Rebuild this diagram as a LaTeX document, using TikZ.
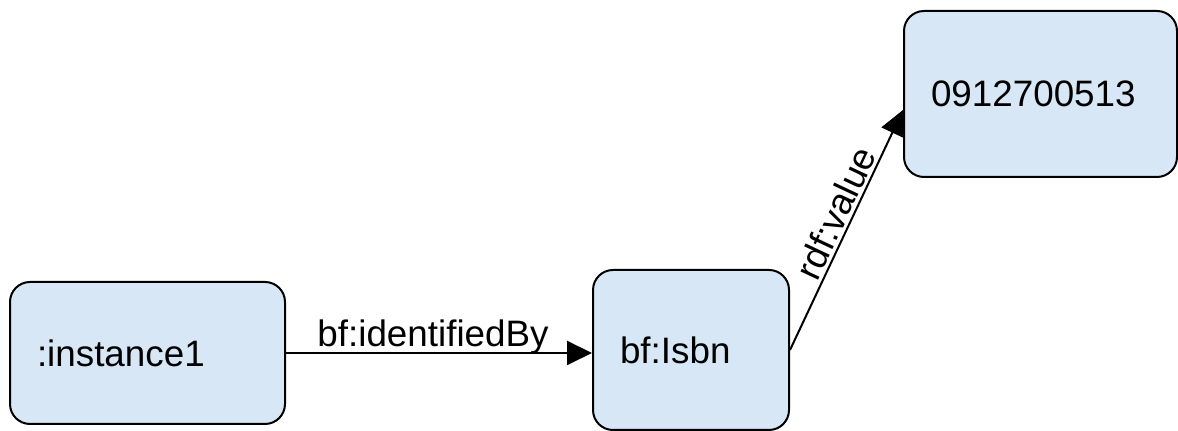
\documentclass[tikz,border=0pt]{standalone}
\usepackage{fontspec}
\setmainfont{Liberation Sans}
\usetikzlibrary{arrows.meta}
\definecolor{nodefill}{HTML}{D8E7F6}
\tikzset{
  res/.style={draw=black, line width=1pt, fill=nodefill, rounded corners=10pt,
    inner xsep=13.5pt, align=left, font=\fontsize{18.4}{22}\selectfont},
  prop/.style={line width=1pt, -{Triangle[length=12.5pt,width=12pt]}},
  plabel/.style={font=\fontsize{18.4}{22}\selectfont, inner sep=0pt, anchor=base}
}
\begin{document}
\begin{tikzpicture}[x=1pt,y=1pt]
\useasboundingbox (0,0) rectangle (589,215.5);
\coordinate (I) at (73.75,39);
\coordinate (B) at (345.5,40.5);
\coordinate (V) at (520.25,168.5);
\node [res, minimum width=137.5pt, minimum height=71pt, text width=110.5pt] (inst) at (I) {:instance1};
\node [res, minimum width=98pt, minimum height=80pt, text width=71pt] (isbn) at (B) {bf:Isbn};
\node [res, minimum width=136.5pt, minimum height=83pt, text width=109.5pt] (value) at (V) {0912700513};
\draw [prop] (inst.east) -- (inst.east -| isbn.west)
  node [plabel, midway, xshift=-3pt, yshift=3pt] {bf:identifiedBy};
\draw [prop] (isbn.east) -- ([yshift=-8pt]value.west)
  node [plabel, pos=0.54, sloped, yshift=2pt] {rdf:value};
\end{tikzpicture}
\end{document}
